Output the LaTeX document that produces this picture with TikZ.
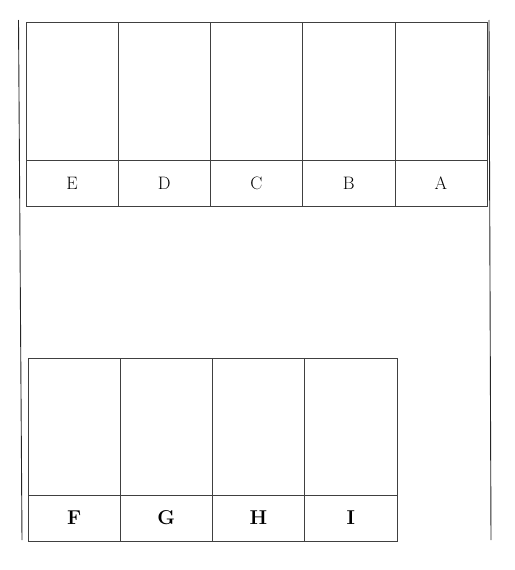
\documentclass[tikz,border=0pt]{standalone}
\usepackage{tikz}
\usetikzlibrary{positioning}

\begin{document}
\begin{tikzpicture}[x=1pt, y=-1pt, node distance=0pt]

\tikzstyle{stall} = [rectangle, minimum width=92.2pt, minimum height=138pt, inner sep=0pt, outer sep=0pt, draw=black!75, line width=0.6pt]
\tikzstyle{tag} = [rectangle, minimum width=92.2pt, minimum height=46pt, inner sep=0pt, outer sep=0pt, draw=black!75, line width=0.6pt, text centered]
\tikzstyle{wall} = [line width=0.9pt, black!85]

\useasboundingbox (0,0) rectangle (514,570);

% upper row
\node (e) [stall, anchor=north west] at (26,22) {};
\node (d) [stall, right=of e] {};
\node (c) [stall, right=of d] {};
\node (b) [stall, right=of c] {};
\node (a) [stall, right=of b] {};
\node (tagE) [tag, below=of e, font=\fontsize{18}{18}\selectfont] {E};
\node (tagD) [tag, below=of d, font=\fontsize{18}{18}\selectfont] {D};
\node (tagC) [tag, below=of c, font=\fontsize{18}{18}\selectfont] {C};
\node (tagB) [tag, below=of b, font=\fontsize{18}{18}\selectfont] {B};
\node (tagA) [tag, below=of a, font=\fontsize{18}{18}\selectfont] {A};

% lower row
\node (f) [stall, anchor=north west, minimum height=137pt] at (28,358) {};
\node (g) [stall, right=of f, minimum height=137pt] {};
\node (h) [stall, right=of g, minimum height=137pt] {};
\node (i) [stall, right=of h, minimum height=137pt] {};
\node (tagF) [tag, below=of f, font=\fontsize{20}{20}\selectfont\bfseries] {F};
\node (tagG) [tag, below=of g, font=\fontsize{20}{20}\selectfont\bfseries] {G};
\node (tagH) [tag, below=of h, font=\fontsize{20}{20}\selectfont\bfseries] {H};
\node (tagI) [tag, below=of i, font=\fontsize{20}{20}\selectfont\bfseries] {I};

% side walls
\draw [wall] (18.5,20) -- (22,540);
\draw [wall] (489,20) -- (491,540);
\end{tikzpicture}
\end{document}
